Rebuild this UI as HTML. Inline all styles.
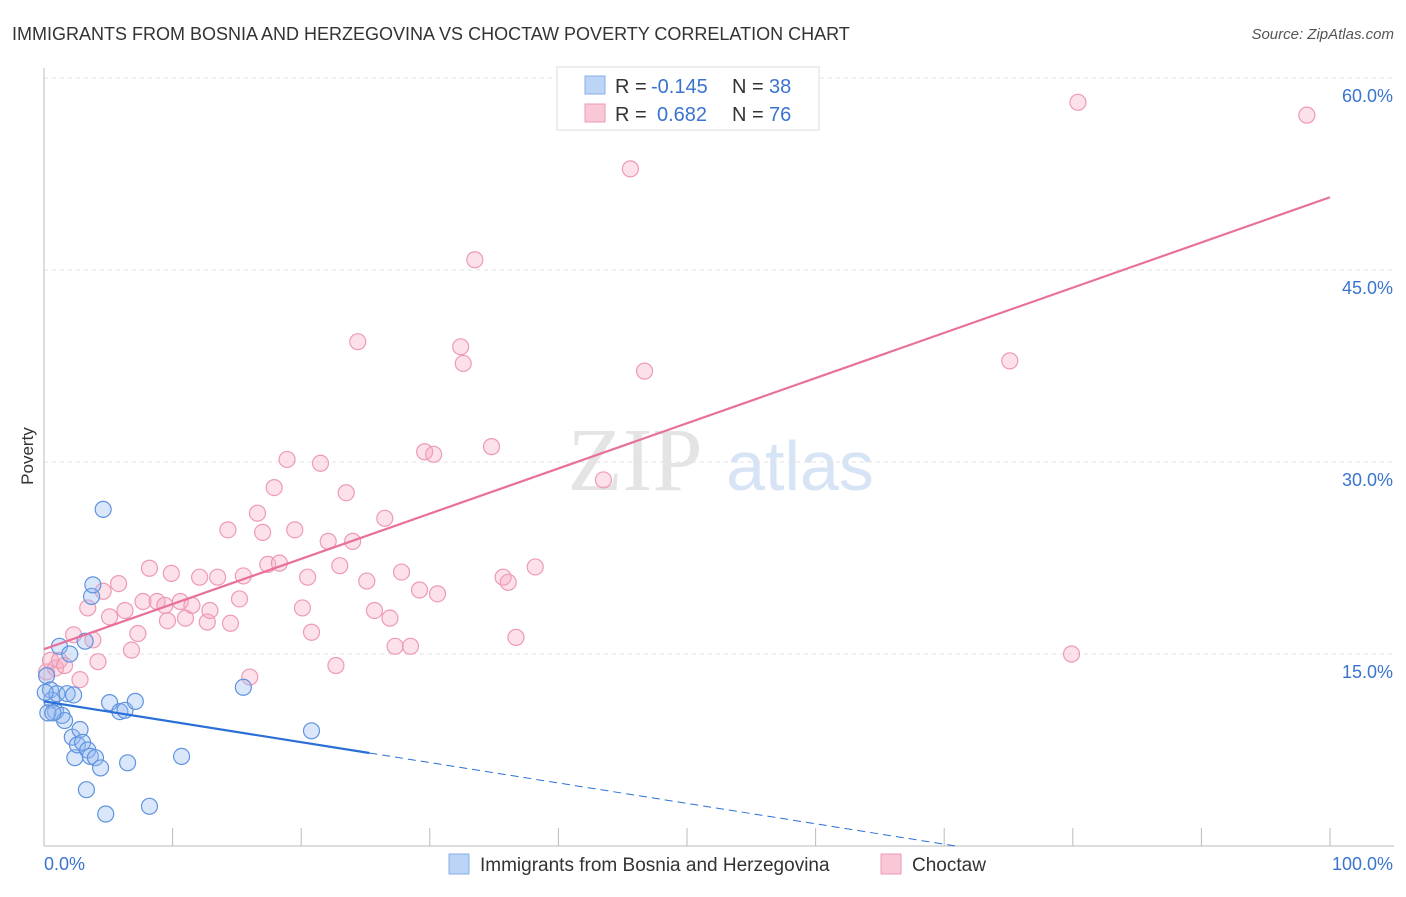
<!DOCTYPE html>
<html><head><meta charset="utf-8"><style>
body{margin:0;background:#fff;font-family:"Liberation Sans",sans-serif}
</style></head><body>
<svg width="1406" height="892" xmlns="http://www.w3.org/2000/svg">
<text x="12" y="40" font-size="18" fill="#333">IMMIGRANTS FROM BOSNIA AND HERZEGOVINA VS CHOCTAW POVERTY CORRELATION CHART</text>
<text x="1394" y="39" font-size="15" fill="#555" font-style="italic" text-anchor="end">Source: ZipAtlas.com</text>
<g><text x="635" y="490" font-size="90" fill="#e4e4e4" text-anchor="middle" font-family="Liberation Serif">ZIP</text><text x="800" y="490" font-size="70" fill="#d6e4f5" text-anchor="middle">atlas</text></g>
<g id="grid"></g>
<g id="axes"></g>
<g id="marks"></g>
<text x="33" y="456" font-size="17" fill="#333" transform="rotate(-90 33 456)" text-anchor="middle">Poverty</text>
<g>
<rect x="557" y="67" width="262" height="63" fill="#fff" stroke="#ddd"/>
<rect x="585" y="76" width="20" height="18" fill="#bcd4f5" stroke="#88aee8"/>
<rect x="585" y="104" width="20" height="18" fill="#f9c8d6" stroke="#ee9ab4"/>
<text x="615" y="93" font-size="20" fill="#333">R =</text>
<text x="651" y="93" font-size="20" fill="#3a74d0">-0.145</text>
<text x="732" y="93" font-size="20" fill="#333">N =</text>
<text x="769" y="93" font-size="20" fill="#3a74d0">38</text>
<text x="615" y="121" font-size="20" fill="#333">R =</text>
<text x="657" y="121" font-size="20" fill="#3a74d0">0.682</text>
<text x="732" y="121" font-size="20" fill="#333">N =</text>
<text x="769" y="121" font-size="20" fill="#3a74d0">76</text>
</g>
<g>
<rect x="449" y="854" width="20" height="20" fill="#bcd4f5" stroke="#88aee8"/>
<text x="480" y="871" font-size="19" fill="#333">Immigrants from Bosnia and Herzegovina</text>
<rect x="881" y="854" width="20" height="20" fill="#f9c8d6" stroke="#ee9ab4"/>
<text x="912" y="871" font-size="19" fill="#333">Choctaw</text>
</g>
</svg>
<script>
const yTicks=[15,30,45,60];
const yTickLabels=["15.0%","30.0%","45.0%","60.0%"];
const xTickLabels=["0.0%","100.0%"];
const blueX=[0.2,0.5,0.6,0.9,1.2,1.0,1.4,1.6,1.8,2.0,2.2,2.3,2.4,2.6,2.8,3.0,3.2,3.3,3.4,3.6,3.7,3.8,4.0,4.4,4.6,4.8,5.1,5.9,6.3,6.5,7.1,8.2,10.7,15.5,20.8,0.1,0.3,0.7];
const blueY=[13.3,12.2,11.4,10.5,15.6,11.9,10.2,9.8,11.9,15.0,8.5,11.8,6.9,7.9,9.1,8.1,16.0,4.4,7.5,7.0,19.5,20.4,6.9,6.1,26.3,2.5,11.2,10.5,10.6,6.5,11.3,3.1,7.0,12.4,9.0,12.0,10.4,10.4];
const pinkX=[0.2,0.5,0.9,1.2,1.6,2.3,2.8,3.4,3.8,4.2,4.6,5.1,5.8,6.3,6.8,7.3,7.7,8.2,8.8,9.4,9.6,9.9,10.6,11.0,11.5,12.1,12.7,12.9,13.5,14.3,14.5,15.2,15.5,16.0,16.6,17.0,17.4,17.9,18.3,18.9,19.5,20.1,20.5,20.8,21.5,22.1,22.7,23.0,23.5,24.0,24.4,25.1,25.7,26.5,26.9,27.3,27.8,28.5,29.2,29.6,30.3,30.6,32.4,32.6,33.5,34.8,35.7,36.1,36.7,38.2,43.5,45.6,46.7,75.1,79.9,80.4,98.2];
const pinkY=[13.6,14.5,13.9,14.5,14.1,16.5,13.0,18.6,16.1,14.4,19.9,17.9,20.5,18.4,15.3,16.6,19.1,21.7,19.1,18.8,17.6,21.3,19.1,17.8,18.8,21.0,17.5,18.4,21.0,24.7,17.4,19.3,21.1,13.2,26.0,24.5,22.0,28.0,22.1,30.2,24.7,18.6,21.0,16.7,29.9,23.8,14.1,21.9,27.6,23.8,39.4,20.7,18.4,25.6,17.8,15.6,21.4,15.6,20.0,30.8,30.6,19.7,39.0,37.7,45.8,31.2,21.0,20.6,16.3,21.8,28.6,52.9,37.1,37.9,15.0,58.1,57.1];
const X0=44,X1=1330,Y0=846,PPY=12.8;
const sx=v=>X0+(X1-X0)*v/100, sy=v=>Y0-v*PPY;
const NS="http://www.w3.org/2000/svg";
function mk(tag,attrs,parent,text){const e=document.createElementNS(NS,tag);for(const k in attrs)e.setAttribute(k,attrs[k]);if(text!=null)e.textContent=text;parent.appendChild(e);return e;}
const grid=document.getElementById('grid'),axes=document.getElementById('axes'),marks=document.getElementById('marks');
yTicks.forEach((t,i)=>{const g=mk('line',{x1:X0,x2:1394,y1:sy(t),y2:sy(t),stroke:'#e2e2e2','stroke-dasharray':'4,4'},grid);


const l=mk('text',{x:1393,y:sy(t)+24,'font-size':18,fill:'#3a74d0','text-anchor':'end'},axes,yTickLabels[i]);

});
const ax=mk('line',{x1:X0,x2:1394,y1:Y0,y2:Y0,stroke:'#bbb'},axes);


const ay=mk('line',{x1:X0,x2:X0,y1:68,y2:Y0,stroke:'#bbb'},axes);


for(let i=0;i<=10;i++){const t=mk('line',{x1:sx(i*10),x2:sx(i*10),y1:Y0,y2:Y0-18,stroke:'#bbb'},axes);

}
const xl0=mk('text',{x:44,y:870,'font-size':18,fill:'#3a74d0'},axes,xTickLabels[0]);


const xl1=mk('text',{x:1393,y:870,'font-size':18,fill:'#3a74d0','text-anchor':'end'},axes,xTickLabels[1]);


function fit(xs,ys){const n=xs.length;let mx=0,my=0;for(let i=0;i<n;i++){mx+=xs[i];my+=ys[i];}mx/=n;my/=n;let a=0,b=0;for(let i=0;i<n;i++){a+=(xs[i]-mx)*(ys[i]-my);b+=(xs[i]-mx)**2;}const s=a/b;return [my-s*mx,s];}
pinkX.forEach((v,i)=>{const c=mk('circle',{cx:sx(v),cy:sy(pinkY[i]),r:8,fill:'rgba(246,170,195,0.35)',stroke:'#ee9ab4','stroke-width':1.2},marks);

});
blueX.forEach((v,i)=>{const c=mk('circle',{cx:sx(v),cy:sy(blueY[i]),r:8,fill:'rgba(150,185,240,0.35)',stroke:'#5f93df','stroke-width':1.2},marks);

});
const [pb,ps]=fit(pinkX,pinkY);
const pl=mk('line',{x1:sx(0),y1:sy(pb),x2:sx(100),y2:sy(pb+ps*100),stroke:'#e8709a','stroke-width':2.2},marks);


const [bb,bs]=fit(blueX,blueY);
const bmax=25.3, xz=Math.min(100,-bb/bs);
const bl=mk('line',{x1:sx(0),y1:sy(bb),x2:sx(bmax),y2:sy(bb+bs*bmax),stroke:'#2a6fd6','stroke-width':2.2},marks);


const bd=mk('line',{x1:sx(bmax),y1:sy(bb+bs*bmax),x2:sx(xz),y2:sy(bb+bs*xz),stroke:'#2a6fd6','stroke-width':1,'stroke-dasharray':'8,5'},marks);


</script>
</body></html>
